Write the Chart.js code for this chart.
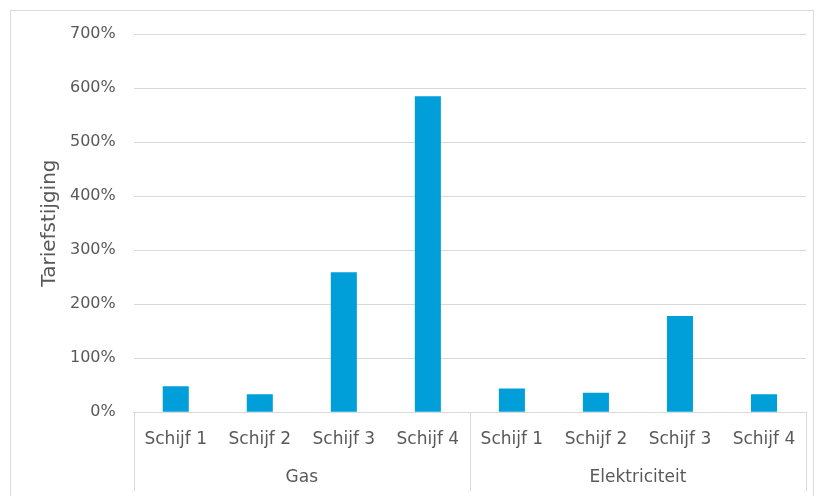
<!DOCTYPE html>
<html>
<head>
<meta charset="utf-8">
<script src="https://cdn.jsdelivr.net/npm/chart.js@4.4.0/dist/chart.umd.min.js"></script>
<style>
html, body { margin: 0; padding: 0; background: #fff; overflow: hidden; }
#wrap { position: relative; width: 816px; height: 496px; }
#frame { position: absolute; left: 10px; top: 10px; width: 802px; height: 520px; border: 1px solid #d9d9d9; }
canvas { position: absolute; left: 0; top: 0; }
</style>
</head>
<body>
<div id="wrap">
  <div id="frame"></div>
  <canvas id="chart" width="816" height="496"></canvas>
</div>
<script>
// data
const groups = ['Gas', 'Elektriciteit'];
const tiers = ['Schijf 1', 'Schijf 2', 'Schijf 3', 'Schijf 4'];
const gasValues = [48, 33, 259, 585];
const elecValues = [44, 36, 178, 33];
const yTickValues = [0, 100, 200, 300, 400, 500, 600, 700];
const yTitle = 'Tariefstijging';

const xLabels = groups.flatMap(() => tiers);
const values = gasValues.concat(elecValues);

const fontFamily = '"DejaVu Sans", sans-serif';
const textColor = '#595959';
const lineColor = '#d9d9d9';

// vertical separators between the groups, below the plot
const groupLines = {
    id: 'groupLines',
    afterDraw(chart) {
        const x = chart.scales.x;
        const g = chart.scales.group;
        const ctx = chart.ctx;
        ctx.save();
        ctx.strokeStyle = lineColor;
        ctx.lineWidth = 1;
        for (let k = 0; k <= groups.length; k++) {
            const px = Math.round(g.getPixelForValue(k - 0.5)) + 0.5;
            ctx.beginPath();
            ctx.moveTo(px, x.top);
            ctx.lineTo(px, g.bottom + 2);
            ctx.stroke();
        }
        ctx.restore();
    }
};

new Chart(document.getElementById('chart'), {
    type: 'bar',
    data: {
        labels: xLabels,
        datasets: [{
            data: values,
            backgroundColor: '#009fda',
            borderWidth: 0,
            categoryPercentage: 1,
            barPercentage: 0.31
        }]
    },
    options: {
        responsive: false,
        animation: false,
        layout: { padding: { left: 34, right: 10, top: 34, bottom: 7 } },
        plugins: {
            legend: { display: false },
            tooltip: { enabled: false }
        },
        scales: {
            x: {
                grid: { display: true, drawOnChartArea: false, drawTicks: false, tickLength: 0 },
                border: { display: true, color: lineColor },
                ticks: {
                    color: textColor,
                    font: { family: fontFamily, size: 17 },
                    padding: 17,
                    autoSkip: false,
                    maxRotation: 0
                }
            },
            group: {
                type: 'category',
                labels: groups,
                position: 'bottom',
                offset: true,
                grid: { display: false, drawTicks: false, tickLength: 0 },
                border: { display: false },
                ticks: {
                    color: textColor,
                    font: { family: fontFamily, size: 17 },
                    padding: 1,
                    maxRotation: 0
                }
            },
            y: {
                min: 0,
                max: 700,
                afterBuildTicks(scale) {
                    scale.ticks = yTickValues.map(v => ({ value: v }));
                },
                grid: { color: lineColor, drawTicks: false, tickLength: 0 },
                border: { display: false },
                ticks: {
                    color: textColor,
                    font: { family: fontFamily, size: 16 },
                    padding: 18,
                    callback: v => v + '%'
                },
                title: {
                    display: true,
                    text: yTitle,
                    color: textColor,
                    font: { family: fontFamily, size: 20 },
                    padding: { top: 4, bottom: -10 }
                }
            }
        }
    },
    plugins: [groupLines]
});
</script>
</body>
</html>
